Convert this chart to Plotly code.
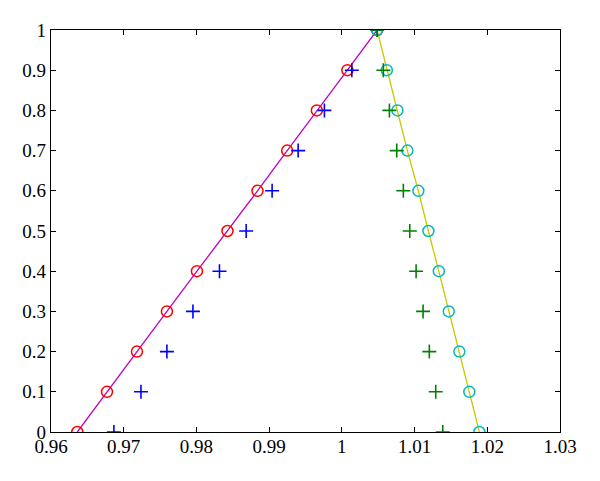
import plotly.graph_objects as go

y_levels = [0, 0.1, 0.2, 0.3, 0.4, 0.5, 0.6, 0.7, 0.8, 0.9, 1.0]

red_x = [0.96362, 0.96770, 0.97182, 0.97594, 0.98007, 0.98427, 0.98840, 0.99248, 0.99656, 1.00076, 1.00485]
blue_x = [0.96865, 0.97237, 0.97594, 0.97952, 0.98317, 0.98684, 0.99041, 0.99399, 0.99760, 1.00137, 1.00485]
cyan_x = [1.01891, 1.01753, 1.01616, 1.01470, 1.01333, 1.01190, 1.01052, 1.00901, 1.00764, 1.00618, 1.00485]
green_x = [1.01388, 1.01291, 1.01203, 1.01117, 1.01021, 1.00934, 1.00846, 1.00755, 1.00654, 1.00571, 1.00485]

x_ticks = [0.96, 0.97, 0.98, 0.99, 1.0, 1.01, 1.02, 1.03]
x_tick_labels = ["0.96", "0.97", "0.98", "0.99", "1", "1.01", "1.02", "1.03"]
y_ticks = [0, 0.1, 0.2, 0.3, 0.4, 0.5, 0.6, 0.7, 0.8, 0.9, 1.0]
y_tick_labels = ["0", "0.1", "0.2", "0.3", "0.4", "0.5", "0.6", "0.7", "0.8", "0.9", "1"]

fig = go.Figure()
fig.add_trace(go.Scatter(x=red_x, y=y_levels, mode="lines",
                         line=dict(color="#c000c0", width=1.3), showlegend=False))
fig.add_trace(go.Scatter(x=cyan_x, y=y_levels, mode="lines",
                         line=dict(color="#c8c800", width=1.3), showlegend=False))
fig.add_trace(go.Scatter(x=red_x, y=y_levels, mode="markers",
                         marker=dict(symbol="circle-open", size=11, color="#ff0000",
                                     line=dict(width=1.5, color="#ff0000")), showlegend=False))
fig.add_trace(go.Scatter(x=blue_x, y=y_levels, mode="markers",
                         marker=dict(symbol="cross-thin-open", size=10, color="#0000ff",
                                     line=dict(width=1.6, color="#0000ff")), showlegend=False))
fig.add_trace(go.Scatter(x=cyan_x, y=y_levels, mode="markers",
                         marker=dict(symbol="circle-open", size=11, color="#00b8c0",
                                     line=dict(width=1.5, color="#00b8c0")), showlegend=False))
fig.add_trace(go.Scatter(x=green_x, y=y_levels, mode="markers",
                         marker=dict(symbol="cross-thin-open", size=10, color="#008000",
                                     line=dict(width=1.6, color="#008000")), showlegend=False))

axis_common = dict(showgrid=False, zeroline=False, showline=True, linecolor="black",
                   linewidth=1.3, mirror="ticks", ticks="inside", ticklen=5,
                   tickcolor="black", tickwidth=1.2,
                   tickfont=dict(family="Liberation Serif", size=19, color="black"))

fig.update_xaxes(range=[0.96, 1.03], tickvals=x_ticks, ticktext=x_tick_labels,
                 ticklabelstandoff=-3, **axis_common)
fig.update_yaxes(range=[0, 1], tickvals=y_ticks, ticktext=y_tick_labels, **axis_common)

fig.update_layout(width=584, height=465, margin=dict(l=43, r=32, t=22, b=41),
                  plot_bgcolor="white", paper_bgcolor="white")

fig.write_html("out.html")
